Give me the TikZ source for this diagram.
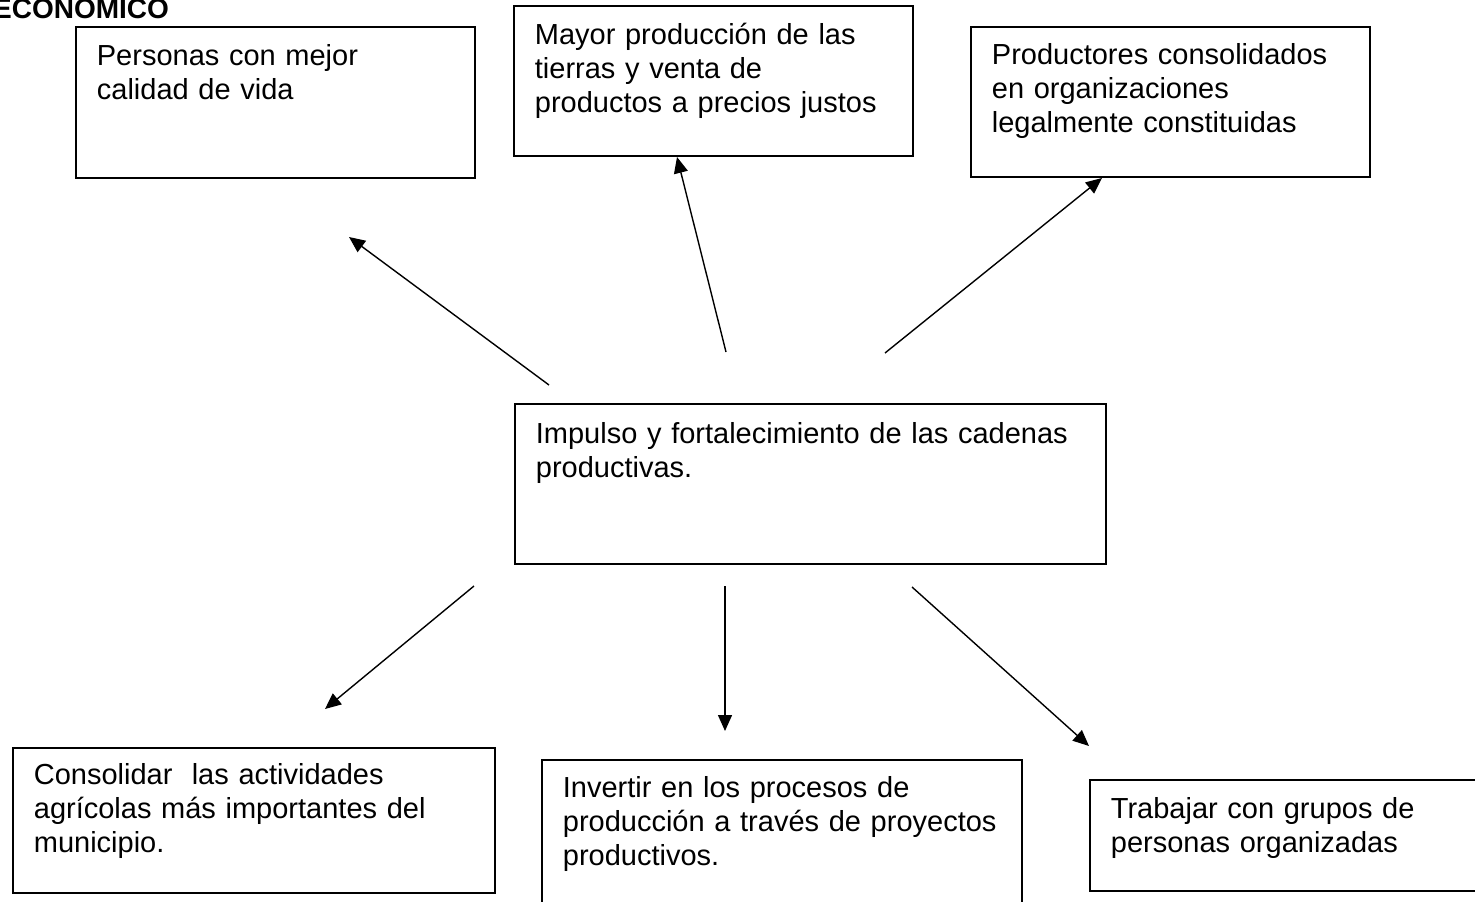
\documentclass[tikz,border=0pt]{standalone}
\usepackage{fontspec}
\setmainfont{Liberation Sans}
\usetikzlibrary{arrows.meta}
\tikzset{
  box/.style={draw=black, line width=1.8pt, anchor=north west, inner xsep=21pt, inner ysep=0pt,
    align=left, font=\fontsize{29}{34}\selectfont},
  conn/.style={line width=1.4pt, -{Triangle[length=16pt,width=14pt]}},
  ttl/.style={anchor=base west, inner sep=0pt, font=\bfseries\fontsize{28}{34}\selectfont}
}
\begin{document}
\begin{tikzpicture}[x=1pt,y=-1pt]
\useasboundingbox (0,0) rectangle (1475,902);
\clip (0,0) rectangle (1475,902);
\fill[white] (0,0) rectangle (1475,902);

\node[ttl] (title) at (-7,18) {ECONOMICO};

\node[box, text width=357pt, text height=39pt, text depth=112pt] (b1) at (75,26)
  {Personas con mejor\\calidad de vida};
\node[box, text width=357pt, text height=39pt, text depth=111pt] (b2) at (513,5)
  {Mayor producción de las\\tierras y venta de\\productos a precios justos};
\node[box, text width=357pt, text height=38pt, text depth=112pt] (b3) at (970,26)
  {Productores consolidados\\en organizaciones\\legalmente constituidas};
\node[box, text width=549pt, text height=40pt, text depth=120pt] (c) at (514,403)
  {Impulso y fortalecimiento de las cadenas\\productivas.};
\node[box, text width=440pt, text height=37pt, text depth=108pt] (d1) at (12,747)
  {Consolidar~ las actividades\\agrícolas más importantes del\\municipio.};
\node[box, text width=438pt, text height=38pt, text depth=122pt] (d2) at (541,759)
  {Invertir en los procesos de\\producción a través de proyectos\\productivos.};
\node[box, text width=378pt, text height=39pt, text depth=72pt] (d3) at (1089,779)
  {Trabajar con grupos de\\personas organizadas};

\coordinate (a1s) at (549,385); \coordinate (a1e) at (349,237);
\coordinate (a2s) at (726,352); \coordinate (a2e) at (677,157);
\coordinate (a3s) at (885,353); \coordinate (a3e) at (1102,178);
\coordinate (a4s) at (474,586); \coordinate (a4e) at (325,709);
\coordinate (a5s) at (725,586); \coordinate (a5e) at (725,731);
\coordinate (a6s) at (912,587); \coordinate (a6e) at (1089,746);

\draw[conn] (a1s) -- (a1e);
\draw[conn] (a2s) -- (a2e);
\draw[conn] (a3s) -- (a3e);
\draw[conn] (a4s) -- (a4e);
\draw[conn] (a5s) -- (a5e);
\draw[conn] (a6s) -- (a6e);
\end{tikzpicture}
\end{document}
